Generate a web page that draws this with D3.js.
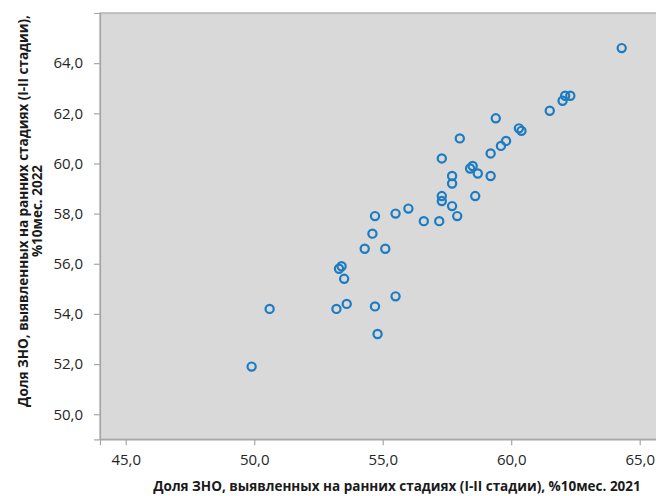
<!DOCTYPE html>
<html>
<head>
<meta charset="utf-8">
<script src="https://cdn.jsdelivr.net/npm/d3@7"></script>
<style>
  html, body { margin: 0; padding: 0; background: #ffffff; }
  svg { display: block; }
  text { font-family: "Open Sans", "DejaVu Sans", sans-serif; }
</style>
</head>
<body>
<svg id="chart" width="656" height="496"></svg>
<script>
// Share of early-stage (I-II) detections, 10 months 2021 (x) vs 10 months 2022 (y)
const x2021 = [49.9, 50.6, 53.2, 53.6, 53.3, 53.4, 53.5, 54.7, 55.5, 54.8,
               54.3, 55.1, 54.6, 54.7, 55.5, 56.0, 56.6, 57.2, 57.9, 57.7,
               57.3, 57.3, 58.6, 57.7, 57.7, 59.2, 58.7, 58.4, 58.5, 59.2,
               59.6, 59.8, 57.3, 58.0, 59.4, 60.3, 60.4, 61.5, 62.0, 62.1,
               62.3, 64.3];
const y2022 = [51.9, 54.2, 54.2, 54.4, 55.8, 55.9, 55.4, 54.3, 54.7, 53.2,
               56.6, 56.6, 57.2, 57.9, 58.0, 58.2, 57.7, 57.7, 57.9, 58.3,
               58.5, 58.7, 58.7, 59.2, 59.5, 59.5, 59.6, 59.8, 59.9, 60.4,
               60.7, 60.9, 60.2, 61.0, 61.8, 61.4, 61.3, 62.1, 62.5, 62.7,
               62.7, 64.6];
const xTicks = [45, 50, 55, 60, 65];
const yTicks = [50, 52, 54, 56, 58, 60, 62, 64];
const xDomain = [44, 66];
const yDomain = [49, 66];
const xTitle = "Доля ЗНО, выявленных на ранних стадиях (I-II стадии), %10мес. 2021";
const yTitleLines = ["Доля ЗНО, выявленных на ранних стадиях (I-II стадии),", "%10мес. 2022"];

const svg = d3.select("#chart");
const plot = { left: 100, top: 13, bottom: 439.3, right: 665.4 };

const x = d3.scaleLinear().domain(xDomain).range([plot.left, plot.right]);
const y = d3.scaleLinear().domain(yDomain).range([plot.bottom, plot.top]);

const locale = d3.formatLocale({ decimal: ",", thousands: " ", grouping: [3], currency: ["", ""] });
const fmt = locale.format(".1f");

// plot background
svg.append("rect")
  .attr("x", plot.left).attr("y", plot.top)
  .attr("width", plot.right - plot.left).attr("height", plot.bottom - plot.top)
  .attr("fill", "#d9d9d9")
  .attr("stroke", "#a6a6a6").attr("stroke-width", 1.2);

// x axis
const gx = svg.append("g")
  .attr("transform", `translate(0,${plot.bottom})`)
  .call(d3.axisBottom(x).tickValues(xTicks).tickFormat(fmt).tickSize(6).tickPadding(9));
// y axis
const gy = svg.append("g")
  .attr("transform", `translate(${plot.left},0)`)
  .call(d3.axisLeft(y).tickValues(yTicks).tickFormat(fmt).tickSize(6).tickPadding(11));

[gx, gy].forEach(g => {
  g.select(".domain").attr("stroke", "#a6a6a6").attr("stroke-width", 1.2);
  g.selectAll(".tick line").attr("stroke", "#a6a6a6").attr("stroke-width", 1.2);
  g.selectAll(".tick text")
    .attr("fill", "#262626")
    .style("font-family", "'Open Sans', sans-serif")
    .style("font-size", "15px");
});

// points
svg.append("g")
  .selectAll("circle")
  .data(x2021.map((v, i) => [v, y2022[i]]))
  .join("circle")
  .attr("cx", d => x(d[0]))
  .attr("cy", d => y(d[1]))
  .attr("r", 4.1)
  .attr("fill", "none")
  .attr("stroke", "#1b7cc1")
  .attr("stroke-width", 2.2);

// x title
svg.append("text")
  .attr("x", 397).attr("y", 491)
  .attr("text-anchor", "middle")
  .attr("font-weight", "bold")
  .attr("font-size", "13.5px")
  .attr("fill", "#1a1a1a")
  .text(xTitle);

// y title (two lines, rotated)
const yt = svg.append("text")
  .attr("transform", "translate(0,211) rotate(-90)")
  .attr("text-anchor", "middle")
  .attr("font-weight", "bold")
  .attr("font-size", "13.5px")
  .attr("fill", "#1a1a1a");
yt.selectAll("tspan")
  .data(yTitleLines)
  .join("tspan")
  .attr("x", 0)
  .attr("y", (d, i) => 27.5 + i * 14.5)
  .text(d => d);
</script>
</body>
</html>
